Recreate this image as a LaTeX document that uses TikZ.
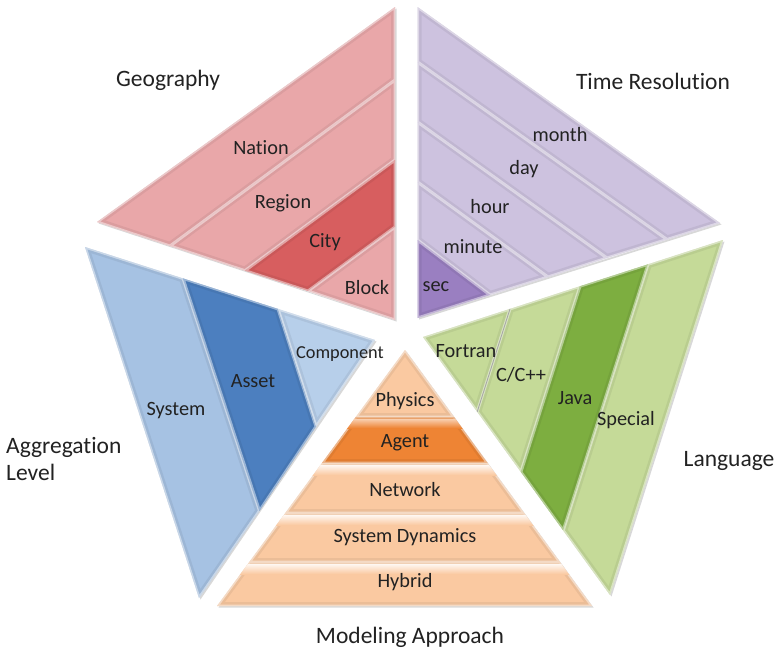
\documentclass[tikz,border=0pt]{standalone}
\usepackage{fontspec}
\setmainfont{Carlito}[Ligatures=NoCommon]
\usetikzlibrary{shadows}
\definecolor{txt}{HTML}{222222}
\definecolor{redL}{HTML}{E9A7A9}
\definecolor{redD}{HTML}{D75E5F}
\definecolor{purL}{HTML}{CDC2DF}
\definecolor{purD}{HTML}{9A7FC1}
\definecolor{bluL}{HTML}{A6C2E3}
\definecolor{bluD}{HTML}{4C7FBF}
\definecolor{bluC}{HTML}{B7CFEA}
\definecolor{grnL}{HTML}{C5DA98}
\definecolor{grnD}{HTML}{7DAE40}
\definecolor{orgL}{HTML}{FAC9A1}
\definecolor{orgD}{HTML}{EE8434}
\newcommand\myband[2]{%
  \fill[#1] #2;
  \begin{scope}\clip #2;
    \draw[black,opacity=.06,line width=8pt,line join=miter] #2;
    \draw[white,opacity=.45,line width=3pt,line join=miter] #2; \end{scope}}
\newcommand\myshade[1]{%
  \path[fill=white, drop shadow={opacity=.3,shadow xshift=1.5pt,shadow yshift=-1.5pt}] #1;}
\begin{document}
\begin{tikzpicture}[x=1pt,y=-1pt,
  title/.style={font=\fontsize{23.5}{27}\selectfont, text=txt, inner sep=1pt},
  lab/.style={font=\fontsize{20.3}{22}\selectfont, text=txt, inner sep=1pt},
  smalllab/.style={font=\fontsize{18.3}{20}\selectfont, text=txt, inner sep=1pt}]
\useasboundingbox[fill=white] (0,0) rectangle (775,654);
% ---------- coordinates ----------
% Geography (red)
\coordinate (RT) at (395,7);
\coordinate (RL) at (97,222);
\coordinate (RB) at (395,320);
\coordinate (R1b) at (170,246);
\coordinate (R2b) at (245,270.7);
\coordinate (R3b) at (308,291);
\coordinate (R1r) at (395,80);
\coordinate (R2r) at (395,160);
\coordinate (R3r) at (395,227);
% Time resolution (purple)
\coordinate (PT) at (417.5,7);
\coordinate (PR) at (720,223);
\coordinate (PB) at (417.5,318);
\coordinate (P1l) at (417.5,62);
\coordinate (P2l) at (417.5,122);
\coordinate (P3l) at (417.5,182);
\coordinate (P4l) at (417.5,240);
\coordinate (P1b) at (667,239.5);
\coordinate (P2b) at (607,258);
\coordinate (P3b) at (548,277);
\coordinate (P4b) at (490,295);
% Aggregation (blue)
\coordinate (BT) at (85,247);
\coordinate (BC) at (375,340);
\coordinate (BB) at (199,598);
\coordinate (B1t) at (183,278.4);
\coordinate (B2t) at (278,308.9);
\coordinate (B1r) at (259.5,510.8);
\coordinate (B2r) at (316,426.5);
% Language (green)
\coordinate (GR) at (723,240);
\coordinate (GL) at (423,337);
\coordinate (GB) at (610,595);
\coordinate (G1t) at (510,308.9);
\coordinate (G2t) at (580,286.2);
\coordinate (G3t) at (648,264.3);
\coordinate (G1l) at (477.2,411.8);
\coordinate (G2l) at (520.9,472.0);
\coordinate (G3l) at (563.2,530.5);
% Modeling approach (orange)
\coordinate (OA) at (405,350);
\coordinate (OL) at (217,606);
\coordinate (OR) at (592,606);
\coordinate (O1l) at (355.8,417);
\coordinate (O1r) at (454.0,417);
\coordinate (O2l) at (322.0,463);
\coordinate (O2r) at (487.5,463);
\coordinate (O3l) at (285.3,513);
\coordinate (O3r) at (524.1,513);
\coordinate (O4l) at (249.3,562);
\coordinate (O4r) at (559.9,562);
% ---------- shadows ----------
\myshade{(RT)--(RL)--(RB)--cycle}
\myshade{(PT)--(PR)--(PB)--cycle}
\myshade{(BT)--(BC)--(BB)--cycle}
\myshade{(GR)--(GL)--(GB)--cycle}
\myshade{(OA)--(OL)--(OR)--cycle}
% ---------- red ----------
\myband{redL}{(RT)--(RL)--(R1b)--(R1r)--cycle}
\myband{redL}{(R1r)--(R1b)--(R2b)--(R2r)--cycle}
\myband{redD}{(R2r)--(R2b)--(R3b)--(R3r)--cycle}
\myband{redL}{(R3r)--(R3b)--(RB)--cycle}
% ---------- purple ----------
\myband{purL}{(PT)--(PR)--(P1b)--(P1l)--cycle}
\myband{purL}{(P1l)--(P1b)--(P2b)--(P2l)--cycle}
\myband{purL}{(P2l)--(P2b)--(P3b)--(P3l)--cycle}
\myband{purL}{(P3l)--(P3b)--(P4b)--(P4l)--cycle}
\myband{purD}{(P4l)--(P4b)--(PB)--cycle}
% ---------- blue ----------
\myband{bluL}{(BT)--(B1t)--(B1r)--(BB)--cycle}
\myband{bluD}{(B1t)--(B2t)--(B2r)--(B1r)--cycle}
\myband{bluC}{(B2t)--(BC)--(B2r)--cycle}
% ---------- green ----------
\myband{grnL}{(GL)--(G1t)--(G1l)--cycle}
\myband{grnL}{(G1t)--(G2t)--(G2l)--(G1l)--cycle}
\myband{grnD}{(G2t)--(G3t)--(G3l)--(G2l)--cycle}
\myband{grnL}{(G3t)--(GR)--(GB)--(G3l)--cycle}
\draw[black!35, line width=0.8pt] (G1t) -- (G1l);
% ---------- orange ----------
\myband{orgL}{(OA)--(O1r)--(O1l)--cycle}
\myband{orgD}{(O1l)--(O1r)--(O2r)--(O2l)--cycle}
\myband{orgL}{(O2l)--(O2r)--(O3r)--(O3l)--cycle}
\myband{orgL}{(O3l)--(O3r)--(O4r)--(O4l)--cycle}
\myband{orgL}{(O4l)--(O4r)--(OR)--(OL)--cycle}
\begin{scope}
  \clip (OA)--(OL)--(OR)--cycle;
  \shade[top color=orgD!40!white, bottom color=orgD] (0,419) rectangle (775,428);
  \shade[top color=white!85!orgL, bottom color=orgL] (0,465) rectangle (775,475);
  \shade[top color=white!85!orgL, bottom color=orgL] (0,515) rectangle (775,525);
  \shade[top color=white!85!orgL, bottom color=orgL] (0,564) rectangle (775,574);
\end{scope}
% ---------- labels ----------
\node[lab] (nation) at (261,148) {Nation};
\node[lab] (region) at (283,203) {Region};
\node[lab] (city) at (325,242) {City};
\node[lab] (block) at (367,288) {Block};
\node[lab] (month) at (560,135) {month};
\node[lab] (day) at (524,169) {day};
\node[lab] (hour) at (490,207) {hour};
\node[lab] (minute) at (473,247) {minute};
\node[lab] (sec) at (436,287) {sec};
\node[lab] (system) at (176,411) {System};
\node[lab] (asset) at (253,381) {Asset};
\node[smalllab] (component) at (340,354) {Component};
\node[lab] (fortran) at (466,351) {Fortran};
\node[lab] (cpp) at (521,375) {C/C++};
\node[lab] (java) at (575,398) {Java};
\node[lab] (special) at (626,420) {Special};
\node[lab] (physics) at (405,401) {Physics};
\node[lab] (agent) at (405,443) {Agent};
\node[lab] (network) at (405,490) {Network};
\node[lab] (sysdyn) at (405,537) {System Dynamics};
\node[lab] (hybrid) at (405,582) {Hybrid};
\node[title] (geo) at (168,80) {Geography};
\node[title] (time) at (653,81) {Time Resolution};
\node[title, align=left, anchor=west] (agg) at (5,459) {Aggregation\\Level};
\node[title] (lang) at (729,461) {Language};
\node[title] (model) at (410,637) {Modeling Approach};
\end{tikzpicture}
\end{document}
